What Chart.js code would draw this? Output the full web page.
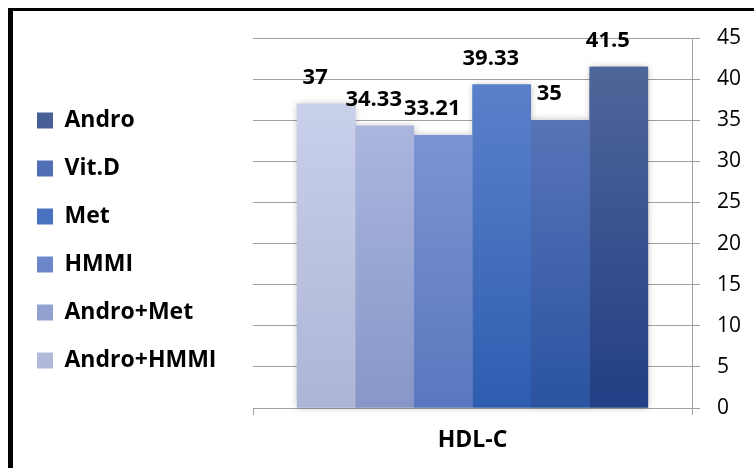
<!DOCTYPE html>
<html>
<head>
<meta charset="utf-8">
<script src="https://cdn.jsdelivr.net/npm/chart.js@4/dist/chart.umd.min.js"></script>
<style>
  html, body { margin: 0; padding: 0; background: #fff; }
  #wrap { position: relative; width: 754px; height: 468px; overflow: hidden; }
  #c { position: absolute; left: 0; top: 0; }
  #frame { position: absolute; left: 8px; top: 8px; width: 760px; height: 480px;
           border-top: 3px solid #000; border-left: 5px solid #000; pointer-events: none; box-sizing: border-box; }
</style>
</head>
<body>
<div id="wrap">
  <canvas id="c" width="754" height="468"></canvas>
  <div id="frame"></div>
</div>
<script>
// ---- data ----
const categories = ["HDL-C"];
const seriesNames = ["Andro+HMMI", "Andro+Met", "HMMI", "Met", "Vit.D", "Andro"];
const seriesValues = [37, 34.33, 33.21, 39.33, 35, 41.5];
const yTicks = [0, 5, 10, 15, 20, 25, 30, 35, 40, 45];

// ---- styles ----
const topColors = ["#c9d0ea", "#aab6de", "#7c94d2", "#5b80ca", "#5874b8", "#4f6699"];
const bottomColors = ["#adb5d6", "#8796c8", "#5a78bf", "#2e5db0", "#2a53a0", "#223f85"];
const legendColors = ["#bcc4e2", "#94a3d3", "#6783cb", "#3363bb", "#2e56a5", "#2b478a"];

Chart.defaults.font.family = "'Open Sans', sans-serif";
Chart.defaults.color = "#000";

const datasets = seriesNames.map((name, i) => ({
  label: name,
  data: [seriesValues[i]],
  backgroundColor: (ctx) => {
    const chart = ctx.chart;
    if (ctx.type !== 'data' || !chart.chartArea || !chart.scales.y) return legendColors[i];
    const ys = chart.scales.y;
    const t = ys.getPixelForValue(ctx.raw);
    const b = ys.getPixelForValue(0);
    if (!isFinite(t) || !isFinite(b) || t === b) return legendColors[i];
    const g = chart.ctx.createLinearGradient(0, t, 0, b);
    g.addColorStop(0, topColors[i]);
    g.addColorStop(1, bottomColors[i]);
    return g;
  },
  borderWidth: 0,
  categoryPercentage: 0.8,
  barPercentage: 1.0
}));

const shadowPlugin = {
  id: 'barShadow',
  beforeDatasetsDraw(chart) {
    const ctx = chart.ctx;
    ctx.save();
    ctx.shadowColor = 'rgba(0,0,0,0.28)';
    ctx.shadowBlur = 7;
    chart.data.datasets.forEach((d, i) => {
      chart.getDatasetMeta(i).data.forEach(el => el.draw(ctx));
    });
    ctx.restore();
  }
};

const labelPlugin = {
  id: 'valueLabels',
  afterDatasetsDraw(chart) {
    const ctx = chart.ctx;
    ctx.save();
    ctx.font = "bold 22px 'Open Sans', sans-serif";
    ctx.fillStyle = '#000';
    ctx.textAlign = 'center';
    ctx.textBaseline = 'middle';
    chart.data.datasets.forEach((d, i) => {
      chart.getDatasetMeta(i).data.forEach((el, j) => {
        ctx.fillText(String(d.data[j]), el.x - 11, el.y - 26);
      });
    });
    ctx.restore();
  }
};

const legendLayoutPlugin = {
  id: 'legendLayout',
  beforeLayout(chart) {
    const lg = chart.legend;
    if (lg && !lg._patchedFit) {
      const orig = lg.fit.bind(lg);
      lg.fit = function () { orig(); this.width = 241; };
      lg._patchedFit = true;
    }
  },
  afterLayout(chart) {
    const lg = chart.legend;
    if (lg) { lg.bottom = 443; lg.height = lg.bottom - lg.top; }
  }
};

new Chart(document.getElementById('c'), {
  type: 'bar',
  data: { labels: categories, datasets },
  plugins: [legendLayoutPlugin, shadowPlugin, labelPlugin],
  options: {
    responsive: false,
    animation: false,
    layout: { padding: { left: 12, top: 38, right: 0, bottom: 0 } },
    plugins: {
      legend: {
        position: 'left',
        align: 'center',
        reverse: true,
        labels: {
          boxWidth: 16,
          boxHeight: 16,
          padding: 25,
          color: '#000',
          font: { size: 23, weight: 'bold' }
        }
      },
      tooltip: { enabled: false }
    },
    scales: {
      x: {
        afterFit(s) { s.height = 60; },
        grid: { offset: true, drawOnChartArea: false, drawTicks: true, tickLength: 7, color: '#a0a0a0' },
        border: { display: true, color: '#a0a0a0' },
        ticks: { padding: 12, color: '#000', font: { size: 23, weight: 'bold' } }
      },
      y: {
        position: 'right',
        min: 0,
        max: 45,
        afterBuildTicks(s) { s.ticks = yTicks.map(v => ({ value: v })); },
        afterFit(s) { s.width = 62; },
        grid: { color: '#a0a0a0', tickLength: 8 },
        border: { display: true, color: '#a0a0a0' },
        ticks: { padding: 17, color: '#000', font: { size: 21 } }
      }
    }
  }
});
</script>
</body>
</html>
